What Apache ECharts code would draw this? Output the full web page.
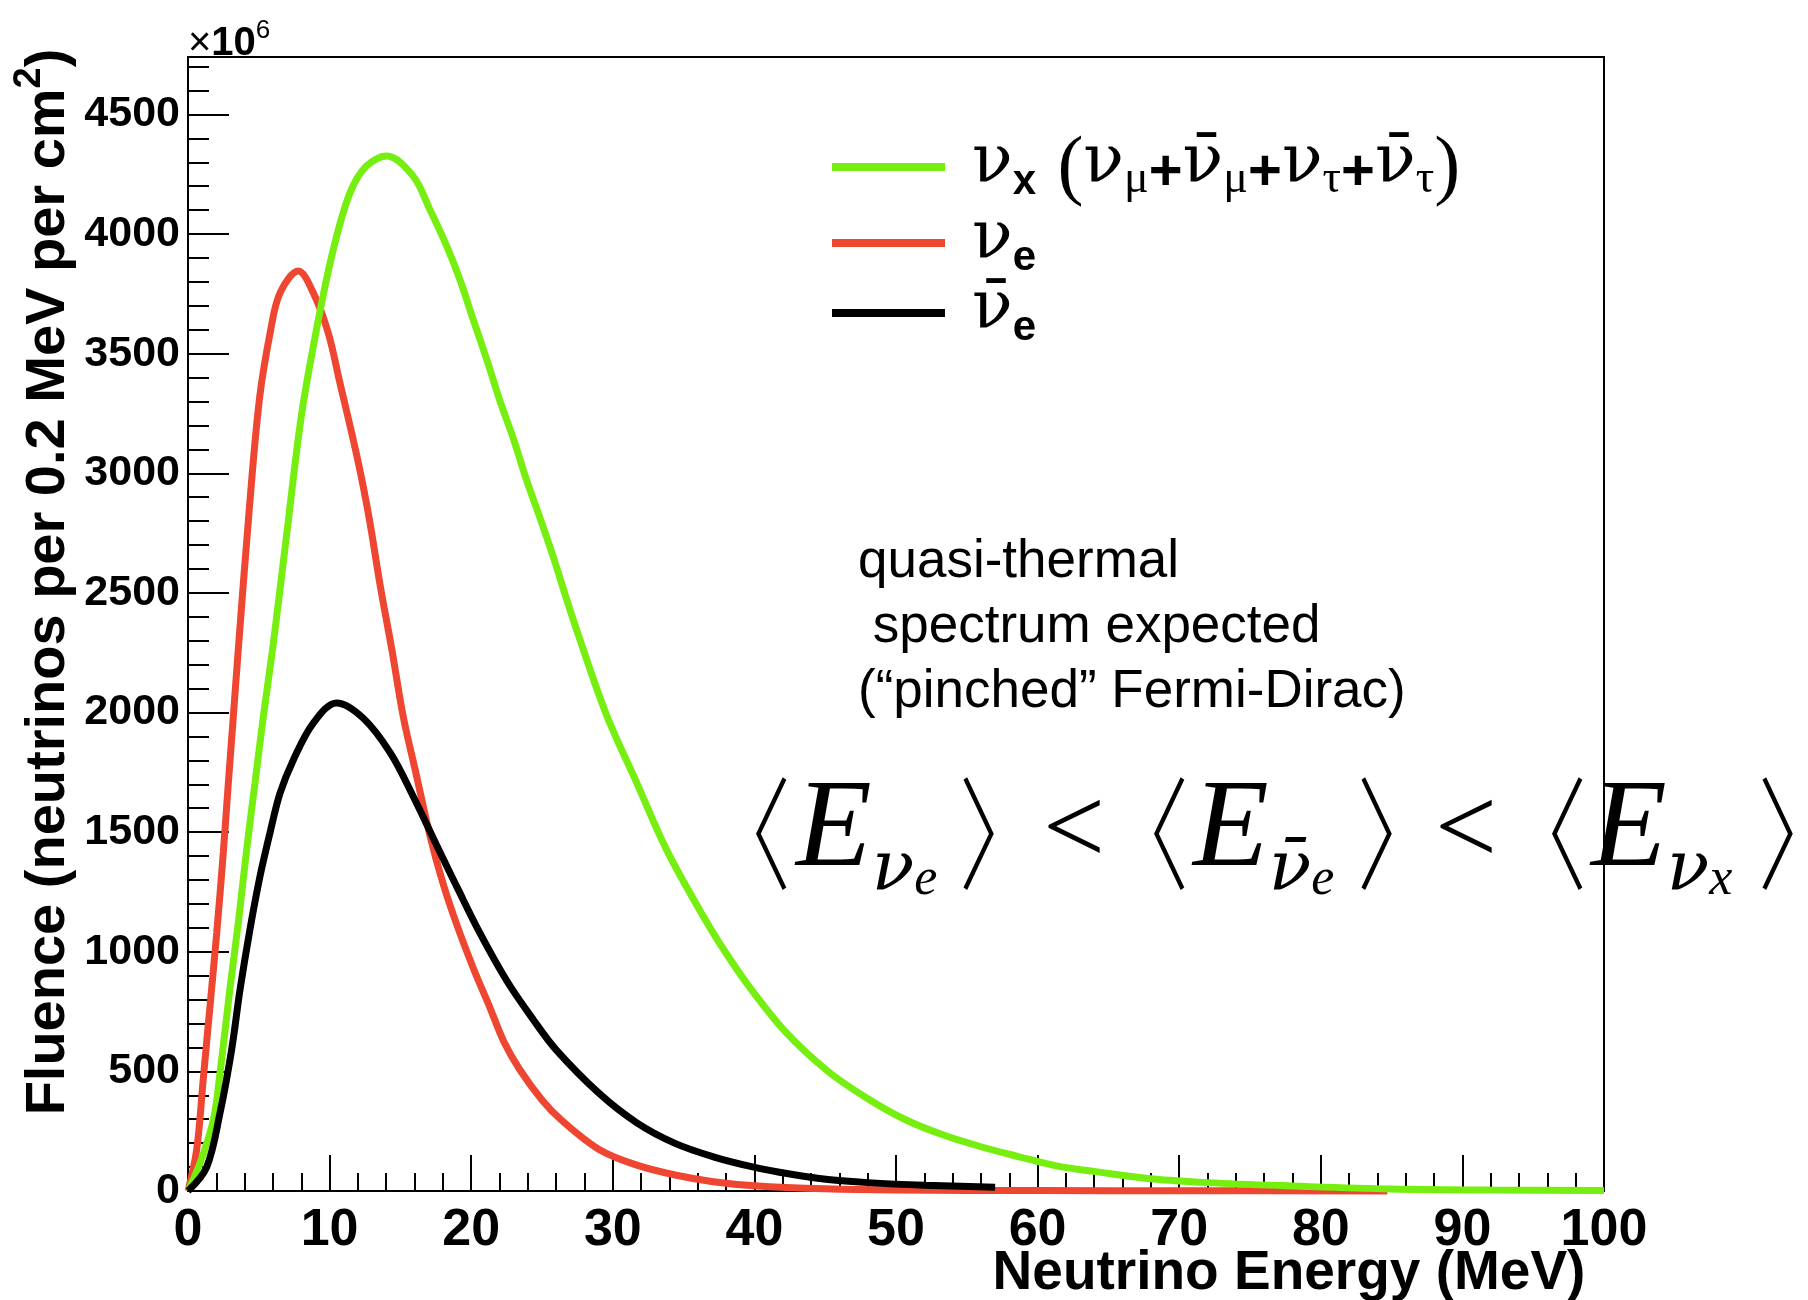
<!DOCTYPE html>
<html><head><meta charset="utf-8">
<script src="https://cdn.jsdelivr.net/npm/echarts@6/dist/echarts.min.js"></script>
<style>html,body{margin:0;padding:0;background:#fff}#c{width:1808px;height:1300px}</style>
</head><body><div id="c"></div><script>
// ---- data ----
const xTicks = [0, 10, 20, 30, 40, 50, 60, 70, 80, 90, 100];
const yTicks = [0, 500, 1000, 1500, 2000, 2500, 3000, 3500, 4000, 4500];

// nu_x (nu_mu + anti-nu_mu + nu_tau + anti-nu_tau)
const nuxEnergy = [0, 0.85, 1.79, 2.26, 2.97, 3.55, 4.14, 4.73, 5.32, 6.03, 7.0, 8.03, 9.2, 10.26, 11.44, 12.6, 14.03, 15.9, 17.1, 18.3, 19.2, 20.1, 21.1, 22.0, 23.0, 23.9, 24.9, 25.8, 26.7, 27.6, 29.6, 31.7, 33.8, 36.4, 37.6, 39.5, 42.2, 45.2, 47.9, 50.6, 53.3, 56.0, 58.7, 61.4, 64.2, 68.2, 72.0, 78.0, 85.0, 92.0, 100];
const nuxFluence = [0, 117, 297, 493, 850, 1120, 1426, 1705, 1983, 2290, 2760, 3250, 3640, 3935, 4172, 4284, 4326, 4242, 4100, 3945, 3810, 3650, 3475, 3308, 3141, 2973, 2806, 2650, 2480, 2318, 1983, 1705, 1426, 1147, 1030, 865, 665, 500, 390, 300, 235, 185, 143, 104, 80, 50, 35, 21, 8, 4, 2];

// nu_e
const nueEnergy = [0, 0.61, 1.08, 1.55, 2.03, 2.5, 2.85, 3.2, 3.55, 4.3, 5.04, 5.8, 6.5, 7.79, 8.85, 9.9, 10.73, 12.0, 12.8, 13.6, 14.4, 15.2, 16.15, 17.1, 18.0, 19.0, 20.2, 21.3, 22.3, 23.4, 25.0, 26.3, 29.0, 31.7, 34.4, 37.1, 40, 45, 50, 60, 70, 84.7];
const nueFluence = [0, 171, 470, 770, 1080, 1420, 1706, 1983, 2262, 2830, 3308, 3587, 3754, 3845, 3754, 3587, 3378, 3052, 2810, 2521, 2262, 1983, 1733, 1482, 1287, 1110, 924, 770, 625, 510, 380, 300, 175, 108, 67, 39, 22, 9, 4, 2, 1, 0];

// anti-nu_e
const anueEnergy = [0, 1.32, 2.26, 3.08, 3.67, 4.38, 5.08, 5.79, 6.5, 7.44, 8.85, 10.5, 12.4, 14.3, 15.9, 17.56, 19.0, 20.6, 22.5, 24.4, 26.0, 29.0, 31.7, 34.4, 37.1, 39.8, 42.5, 45.2, 48.0, 52.0, 57.0];
const anueFluence = [0, 100, 326, 590, 840, 1095, 1314, 1497, 1663, 1802, 1956, 2040, 1975, 1830, 1650, 1445, 1270, 1080, 880, 715, 590, 410, 285, 199, 143, 102, 71, 48, 35, 24, 16];

const seriesNames = ['νx (νμ+ν̄μ+ντ+ν̄τ)', 'νe', 'ν̄e'];
const seriesColors = ['#76ee10', '#ee4631', '#000000'];

function pairs(xs, ys) { return xs.map((x, i) => [x, ys[i]]); }

const legendText = {};
legendText[seriesNames[0]] = '{g| }{n|ν}{xs|x}{n| }{p|(}{n|ν}{gs|μ}{plus|+}{n|ν̄}{gs|μ}{plus|+}{n|ν}{gs|τ}{plus|+}{n|ν̄}{gs|τ}{p|)}';
legendText[seriesNames[1]] = '{g| }{n|ν}{xs|e}';
legendText[seriesNames[2]] = '{g| }{n|ν̄}{xs|e}';

const chart = echarts.init(document.getElementById('c'), null, {renderer: 'canvas'});

const mathRich = {
  E: {fontFamily: 'Liberation Serif', fontStyle: 'italic', fontSize: 124, lineHeight: 124, verticalAlign: 'top'},
  nu: {fontFamily: 'DejaVu Serif', fontStyle: 'italic', fontSize: 70, lineHeight: 136, verticalAlign: 'bottom'},
  sub: {fontFamily: 'Liberation Serif', fontStyle: 'italic', fontSize: 52, lineHeight: 136, verticalAlign: 'bottom'}
};
function bracket(ch, x) {
  return {type: 'text', x: x, y: 773, scaleX: 0.72, origin: [0, 0], style: {text: ch, fontFamily: 'Noto Sans CJK SC', fontWeight: 300, fontSize: 122,
    fill: '#000', align: 'center', verticalAlign: 'top'}};
}
function mathGroup(text, x) {
  return {type: 'text', x: x, y: 770, style: {text: text, rich: mathRich, fill: '#000', verticalAlign: 'top'}};
}

const option = {
  animation: false,
  backgroundColor: '#ffffff',
  grid: {left: 188, top: 57, right: 204, bottom: 109, show: true, borderColor: '#000', borderWidth: 2,
    backgroundColor: 'transparent', outerBoundsMode: 'none', containLabel: false},
  xAxis: {
    type: 'value', min: xTicks[0], max: xTicks[xTicks.length - 1], interval: xTicks[1] - xTicks[0],
    name: 'Neutrino Energy (MeV)', nameLocation: 'middle', nameGap: 55, nameMoveOverlap: false,
    nameTextStyle: {fontFamily: 'Liberation Sans', fontWeight: 'bold', fontSize: 55, color: '#000', verticalAlign: 'top', padding: [0, 0, 0, 786]},
    axisLine: {show: true, onZero: false, lineStyle: {color: '#000', width: 2}},
    axisTick: {show: true, inside: true, length: 36, lineStyle: {color: '#000', width: 2}},
    minorTick: {show: true, splitNumber: 5, length: 18, lineStyle: {color: '#000', width: 2}},
    axisLabel: {fontFamily: 'Liberation Sans', fontWeight: 'bold', fontSize: 52, color: '#000', margin: 14},
    splitLine: {show: false}, minorSplitLine: {show: false}
  },
  yAxis: [{
    type: 'value', min: yTicks[0], max: 4740, interval: yTicks[1] - yTicks[0],
    name: '{a|Fluence (neutrinos per 0.2 MeV per cm}{s|2}{a|)}', nameLocation: 'middle', nameGap: 144, nameRotate: 90, nameMoveOverlap: false,
    nameTextStyle: {align: 'center', verticalAlign: 'middle', padding: [0, 0, 0, 84],
      rich: {
        a: {fontFamily: 'Liberation Sans', fontWeight: 'bold', fontSize: 56, color: '#000', lineHeight: 66, verticalAlign: 'bottom'},
        s: {fontFamily: 'Liberation Sans', fontWeight: 'bold', fontSize: 38, color: '#000', lineHeight: 30, verticalAlign: 'top'}
      }},
    axisLine: {show: true, onZero: false, lineStyle: {color: '#000', width: 2}},
    axisTick: {show: true, inside: true, length: 41, lineStyle: {color: '#000', width: 2}},
    axisLabel: {fontFamily: 'Liberation Sans', fontWeight: 'bold', fontSize: 43, color: '#000', margin: 8, showMaxLabel: false,
      formatter: v => (yTicks.indexOf(v) >= 0 ? String(v) : '')},
    splitLine: {show: false}
  }, {
    type: 'value', min: yTicks[0], max: 4740, interval: 100, position: 'left',
    axisLine: {show: false},
    axisTick: {show: true, inside: true, length: 21, lineStyle: {color: '#000', width: 2}},
    axisLabel: {show: false}, splitLine: {show: false}
  }],
  legend: {
    show: true, orient: 'vertical', left: 832, top: 131, padding: 0, itemGap: -2,
    icon: 'rect', itemWidth: 113, itemHeight: 8, selectedMode: false,
    data: seriesNames,
    formatter: name => legendText[name],
    textStyle: {color: '#000', rich: {
      g: {width: 22, fontSize: 10},
      n: {fontFamily: 'DejaVu Serif', fontSize: 67, lineHeight: 72, verticalAlign: 'top'},
      p: {fontFamily: 'Liberation Serif', fontSize: 78, lineHeight: 72, verticalAlign: 'top'},
      xs: {fontFamily: 'Liberation Sans', fontWeight: 'bold', fontSize: 42, lineHeight: 20, verticalAlign: 'bottom'},
      gs: {fontFamily: 'Liberation Serif', fontSize: 46, lineHeight: 20, verticalAlign: 'bottom'},
      plus: {fontFamily: 'Liberation Sans', fontWeight: 'bold', fontSize: 58, lineHeight: 56, verticalAlign: 'bottom'}
    }}
  },
  series: [
    {name: seriesNames[1], type: 'line', data: pairs(nueEnergy, nueFluence), symbol: 'none', smooth: 0.35, clip: false,
      lineStyle: {color: seriesColors[1], width: 7}, itemStyle: {color: seriesColors[1]}},
    {name: seriesNames[0], type: 'line', data: pairs(nuxEnergy, nuxFluence), symbol: 'none', smooth: 0.35, clip: false,
      lineStyle: {color: seriesColors[0], width: 7}, itemStyle: {color: seriesColors[0]}},
    {name: seriesNames[2], type: 'line', data: pairs(anueEnergy, anueFluence), symbol: 'none', smooth: 0.35, clip: false,
      lineStyle: {color: seriesColors[2], width: 7}, itemStyle: {color: seriesColors[2]}}
  ],
  graphic: [
    {type: 'text', x: 188, y: 18, style: {text: '{t|×}{b|10}{s|6}', rich: {
      t: {fontFamily: 'Liberation Sans', fontSize: 40, lineHeight: 46, verticalAlign: 'bottom', fill: '#000'},
      b: {fontFamily: 'Liberation Sans', fontWeight: 'bold', fontSize: 40, lineHeight: 46, verticalAlign: 'bottom', fill: '#000'},
      s: {fontFamily: 'Liberation Sans', fontSize: 26, lineHeight: 28, verticalAlign: 'top', fill: '#000'}
    }}},
    {type: 'text', x: 858, y: 530, style: {text: 'quasi-thermal\n spectrum expected\n(“pinched” Fermi-Dirac)',
      fontFamily: 'Liberation Sans', fontSize: 53, lineHeight: 65, fill: '#000', verticalAlign: 'top'}},
    bracket('〈', 770 - 23), mathGroup('{E|E}{nu|ν}{sub|e}', 796), bracket('〉', 980 + 23),
    {type: 'text', x: 1043, y: 834, style: {text: '<', fontFamily: 'Liberation Serif', fontSize: 110, fill: '#000', verticalAlign: 'middle'}},
    bracket('〈', 1168 - 23), mathGroup('{E|E}{nu|ν̄}{sub|e}', 1193), bracket('〉', 1378 + 23),
    {type: 'text', x: 1435, y: 834, style: {text: '<', fontFamily: 'Liberation Serif', fontSize: 110, fill: '#000', verticalAlign: 'middle'}},
    bracket('〈', 1566 - 23), mathGroup('{E|E}{nu|ν}{sub|x}', 1591), bracket('〉', 1779 + 23)
  ]
};
chart.setOption(option);
</script></body></html>
